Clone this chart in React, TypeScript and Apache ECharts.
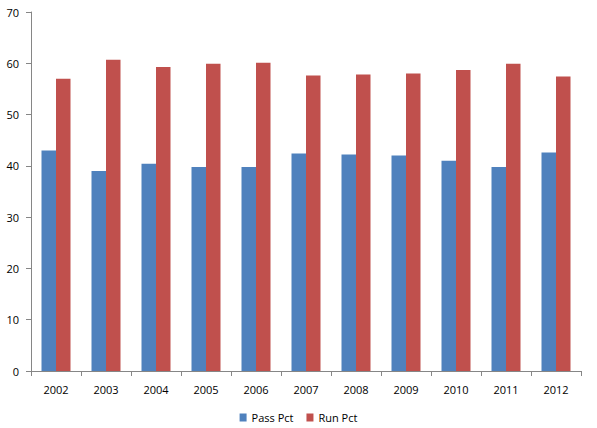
import React, { useEffect, useRef } from "react";
import * as echarts from "echarts";

const years = ["2002", "2003", "2004", "2005", "2006", "2007", "2008", "2009", "2010", "2011", "2012"];
const passPct = [43.0, 39.0, 40.4, 39.8, 39.8, 42.4, 42.2, 42.0, 41.0, 39.8, 42.6];
const runPct = [57.0, 60.7, 59.3, 59.9, 60.1, 57.6, 57.8, 58.0, 58.7, 59.9, 57.4];
const yTicks = { min: 0, max: 70, interval: 10 };

export default function App() {
  const ref = useRef<HTMLDivElement>(null);
  useEffect(() => {
    document.body.style.margin = "0";
    const chart = echarts.init(ref.current!, null, { renderer: "svg" });
    const font = "'Open Sans', 'Liberation Sans', sans-serif";
    chart.setOption({
      animation: false,
      textStyle: { fontFamily: font },
      grid: { left: 31, right: 16, top: 12, bottom: 57 },
      legend: {
        bottom: 0,
        left: "center",
        icon: "rect",
        itemWidth: 7,
        itemHeight: 8,
        itemGap: 13,
        textStyle: { fontSize: 11, color: "#000", fontFamily: font },
        data: ["Pass Pct", "Run Pct"],
      },
      xAxis: {
        type: "category",
        data: years,
        axisLine: { lineStyle: { color: "#868686" } },
        axisTick: { show: true, length: 5, lineStyle: { color: "#868686" } },
        axisLabel: { color: "#000", fontSize: 11, margin: 13, fontFamily: font },
        splitLine: { show: false },
      },
      yAxis: {
        type: "value",
        min: yTicks.min,
        max: yTicks.max,
        interval: yTicks.interval,
        axisLine: { show: true, lineStyle: { color: "#868686" } },
        axisTick: { show: true, length: 5, lineStyle: { color: "#868686" } },
        axisLabel: { color: "#000", fontSize: 11, margin: 12, fontFamily: font },
        splitLine: { show: false },
      },
      series: [
        {
          name: "Pass Pct",
          type: "bar",
          data: passPct,
          barWidth: 14.5,
          barGap: "0%",
          itemStyle: { color: "#4F81BD" },
        },
        {
          name: "Run Pct",
          type: "bar",
          data: runPct,
          barWidth: 14.5,
          barGap: "0%",
          itemStyle: { color: "#C0504D" },
        },
      ],
    });
    return () => chart.dispose();
  }, []);
  return <div ref={ref} style={{ width: 597, height: 428 }} />;
}
